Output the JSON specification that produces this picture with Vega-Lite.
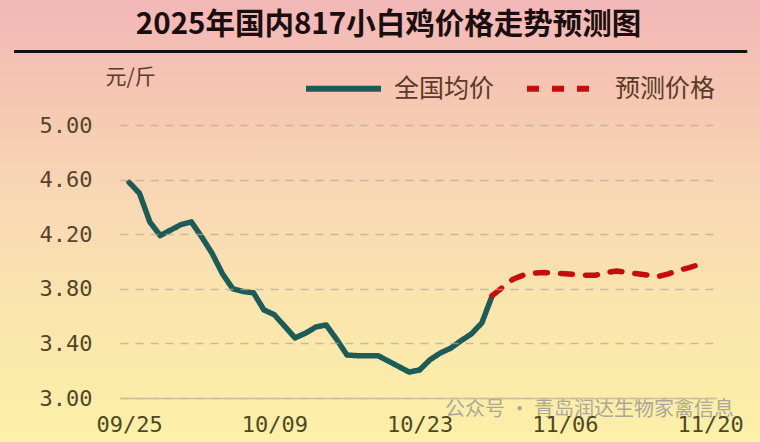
{
  "$schema": "https://vega.github.io/schema/vega-lite/v6.json",
  "autosize": "none",
  "width": 597,
  "height": 273,
  "padding": {"left": 120, "top": 125, "right": 43, "bottom": 44},
  "background": "#f8dab4",
  "title": {
    "text": "2025年国内817小白鸡价格走势预测图",
    "font": "Noto Sans CJK SC",
    "fontSize": 29.5,
    "fontWeight": "bold",
    "color": "#1a0e0e",
    "anchor": "middle",
    "dx": -30,
    "offset": -52,
    "zindex": 1
  },
  "config": {
    "view": {"stroke": null},
    "font": "Noto Sans CJK SC"
  },
  "data": {
    "values": [
      {"date": "2025-09-25T00:00", "price": 4.58, "series": "全国均价"},
      {"date": "2025-09-26T00:00", "price": 4.50, "series": "全国均价"},
      {"date": "2025-09-27T00:00", "price": 4.29, "series": "全国均价"},
      {"date": "2025-09-28T00:00", "price": 4.19, "series": "全国均价"},
      {"date": "2025-09-29T00:00", "price": 4.23, "series": "全国均价"},
      {"date": "2025-09-30T00:00", "price": 4.27, "series": "全国均价"},
      {"date": "2025-10-01T00:00", "price": 4.29, "series": "全国均价"},
      {"date": "2025-10-02T00:00", "price": 4.18, "series": "全国均价"},
      {"date": "2025-10-03T00:00", "price": 4.06, "series": "全国均价"},
      {"date": "2025-10-04T00:00", "price": 3.91, "series": "全国均价"},
      {"date": "2025-10-05T00:00", "price": 3.80, "series": "全国均价"},
      {"date": "2025-10-06T00:00", "price": 3.78, "series": "全国均价"},
      {"date": "2025-10-07T00:00", "price": 3.77, "series": "全国均价"},
      {"date": "2025-10-08T00:00", "price": 3.645, "series": "全国均价"},
      {"date": "2025-10-09T00:00", "price": 3.61, "series": "全国均价"},
      {"date": "2025-10-10T00:00", "price": 3.525, "series": "全国均价"},
      {"date": "2025-10-11T00:00", "price": 3.44, "series": "全国均价"},
      {"date": "2025-10-12T00:00", "price": 3.475, "series": "全国均价"},
      {"date": "2025-10-13T00:00", "price": 3.52, "series": "全国均价"},
      {"date": "2025-10-14T00:00", "price": 3.535, "series": "全国均价"},
      {"date": "2025-10-15T00:00", "price": 3.43, "series": "全国均价"},
      {"date": "2025-10-16T00:00", "price": 3.315, "series": "全国均价"},
      {"date": "2025-10-17T00:00", "price": 3.31, "series": "全国均价"},
      {"date": "2025-10-18T00:00", "price": 3.31, "series": "全国均价"},
      {"date": "2025-10-19T00:00", "price": 3.31, "series": "全国均价"},
      {"date": "2025-10-20T00:00", "price": 3.27, "series": "全国均价"},
      {"date": "2025-10-21T00:00", "price": 3.23, "series": "全国均价"},
      {"date": "2025-10-22T00:00", "price": 3.19, "series": "全国均价"},
      {"date": "2025-10-23T00:00", "price": 3.205, "series": "全国均价"},
      {"date": "2025-10-24T00:00", "price": 3.28, "series": "全国均价"},
      {"date": "2025-10-25T00:00", "price": 3.33, "series": "全国均价"},
      {"date": "2025-10-26T00:00", "price": 3.365, "series": "全国均价"},
      {"date": "2025-10-27T00:00", "price": 3.42, "series": "全国均价"},
      {"date": "2025-10-28T00:00", "price": 3.47, "series": "全国均价"},
      {"date": "2025-10-29T00:00", "price": 3.55, "series": "全国均价"},
      {"date": "2025-10-30T00:00", "price": 3.75, "series": "全国均价"},
      {"date": "2025-10-30T00:00", "price": 3.75, "series": "预测价格"},
      {"date": "2025-10-31T00:00", "price": 3.81, "series": "预测价格"},
      {"date": "2025-11-01T00:00", "price": 3.87, "series": "预测价格"},
      {"date": "2025-11-02T00:00", "price": 3.90, "series": "预测价格"},
      {"date": "2025-11-03T00:00", "price": 3.915, "series": "预测价格"},
      {"date": "2025-11-04T00:00", "price": 3.92, "series": "预测价格"},
      {"date": "2025-11-05T00:00", "price": 3.915, "series": "预测价格"},
      {"date": "2025-11-06T00:00", "price": 3.91, "series": "预测价格"},
      {"date": "2025-11-07T00:00", "price": 3.905, "series": "预测价格"},
      {"date": "2025-11-08T00:00", "price": 3.90, "series": "预测价格"},
      {"date": "2025-11-09T00:00", "price": 3.90, "series": "预测价格"},
      {"date": "2025-11-10T00:00", "price": 3.92, "series": "预测价格"},
      {"date": "2025-11-11T00:00", "price": 3.93, "series": "预测价格"},
      {"date": "2025-11-12T00:00", "price": 3.92, "series": "预测价格"},
      {"date": "2025-11-13T00:00", "price": 3.91, "series": "预测价格"},
      {"date": "2025-11-14T00:00", "price": 3.90, "series": "预测价格"},
      {"date": "2025-11-15T00:00", "price": 3.89, "series": "预测价格"},
      {"date": "2025-11-16T00:00", "price": 3.91, "series": "预测价格"},
      {"date": "2025-11-17T00:00", "price": 3.935, "series": "预测价格"},
      {"date": "2025-11-18T00:00", "price": 3.955, "series": "预测价格"},
      {"date": "2025-11-19T00:00", "price": 3.98, "series": "预测价格"}
    ]
  },
  "layer": [
    {
      "data": {"values": [{}]},
      "mark": {
        "type": "rect",
        "zindex": 0,
        "fill": {
          "gradient": "linear", "x1": 0, "y1": 0, "x2": 0, "y2": 1,
          "stops": [
            {"offset": 0, "color": "#f2b5b8"},
            {"offset": 0.23, "color": "#f6c7b2"},
            {"offset": 0.44, "color": "#f8d8b4"},
            {"offset": 0.65, "color": "#fae4ae"},
            {"offset": 1, "color": "#fdf2a6"}
          ]
        }
      },
      "encoding": {
        "x": {"datum": {"year": 2025, "month": 9, "date": 5}, "type": "temporal"},
        "x2": {"datum": {"year": 2025, "month": 12, "date": 1}},
        "y": {"datum": 6.0, "type": "quantitative"},
        "y2": {"datum": 2.5}
      }
    },
    {
      "data": {"values": [{}]},
      "mark": {"type": "rule", "color": "#111111", "strokeWidth": 3},
      "encoding": {
        "x": {"datum": {"year": 2025, "month": 9, "date": 13, "hours": 22}, "type": "temporal"},
        "x2": {"datum": {"year": 2025, "month": 11, "date": 23, "hours": 14}},
        "y": {"datum": 5.538, "type": "quantitative"}
      }
    },
    {
      "mark": {"type": "line", "strokeWidth": 5.5, "strokeCap": "round", "strokeJoin": "round", "zindex": 2},
      "encoding": {
        "x": {
          "field": "date",
          "type": "temporal",
          "scale": {
            "domain": [
              {"year": 2025, "month": 9, "date": 24, "hours": 3},
              {"year": 2025, "month": 11, "date": 20, "hours": 16}
            ]
          },
          "axis": {
            "title": null,
            "zindex": 1,
            "values": [
              {"year": 2025, "month": 9, "date": 25},
              {"year": 2025, "month": 10, "date": 9},
              {"year": 2025, "month": 10, "date": 23},
              {"year": 2025, "month": 11, "date": 6},
              {"year": 2025, "month": 11, "date": 20}
            ],
            "format": "%m/%d",
            "grid": false,
            "ticks": false,
            "domain": true,
            "domainColor": "#c9bf9c",
            "domainWidth": 1.5,
            "labelFont": "DejaVu Sans Mono",
            "labelFontSize": 22,
            "labelColor": "#4e4822",
            "labelPadding": 16,
            "labelFlush": false,
            "labelOverlap": false
          }
        },
        "y": {
          "field": "price",
          "type": "quantitative",
          "scale": {"domain": [3, 5], "nice": false, "zero": false},
          "axis": {
            "zindex": 1,
            "title": "元/斤",
            "titleAngle": 0,
            "titleX": -15,
            "titleY": -48,
            "titleAlign": "left",
            "titleBaseline": "middle",
            "titleFont": "Noto Sans CJK SC",
            "titleFontSize": 21,
            "titleFontWeight": "normal",
            "titleColor": "#5a3a28",
            "values": [3, 3.4, 3.8, 4.2, 4.6, 5],
            "format": ".2f",
            "grid": true,
            "gridDash": [8, 7],
            "gridColor": "#b8a69a",
            "gridWidth": 1.5,
            "gridOpacity": 0.7,
            "domain": false,
            "ticks": false,
            "labelFont": "DejaVu Sans Mono",
            "labelFontSize": 22,
            "labelColor": "#55442a",
            "labelPadding": 28
          }
        },
        "color": {
          "field": "series",
          "type": "nominal",
          "scale": {"domain": ["全国均价", "预测价格"], "range": ["#1b5b58", "#c80c0c"]},
          "legend": {
            "title": null,
            "orient": "none",
            "legendX": 183,
            "legendY": -77,
            "direction": "horizontal",
            "symbolType": "stroke",
            "symbolSize": 5625,
            "symbolStrokeWidth": 6,
            "labelFont": "Noto Sans CJK SC",
            "labelFontSize": 25,
            "labelColor": "#5a3a28",
            "labelOffset": 10,
            "columnPadding": 20,
            "padding": 0,
            "labelLimit": 300
          }
        },
        "strokeDash": {
          "field": "series",
          "type": "nominal",
          "scale": {"domain": ["全国均价", "预测价格"], "range": [[1, 0], [12, 13]]},
          "legend": {
            "title": null,
            "orient": "none",
            "legendX": 183,
            "legendY": -77,
            "direction": "horizontal",
            "symbolType": "stroke",
            "symbolSize": 5625,
            "symbolStrokeWidth": 6,
            "labelFont": "Noto Sans CJK SC",
            "labelFontSize": 25,
            "labelColor": "#5a3a28",
            "labelOffset": 10,
            "columnPadding": 20,
            "padding": 0,
            "labelLimit": 300
          }
        }
      }
    },
    {
      "data": {"values": [{}]},
      "mark": {"type": "text", "text": "公众号 · 青岛润达生物家禽信息", "font": "Noto Sans CJK SC", "fontSize": 20, "color": "#9c9c98", "opacity": 0.85, "align": "left", "baseline": "middle", "zindex": 3},
      "encoding": {
        "x": {"datum": {"year": 2025, "month": 10, "date": 25, "hours": 11}, "type": "temporal"},
        "y": {"datum": 2.91, "type": "quantitative"}
      }
    }
  ]
}
